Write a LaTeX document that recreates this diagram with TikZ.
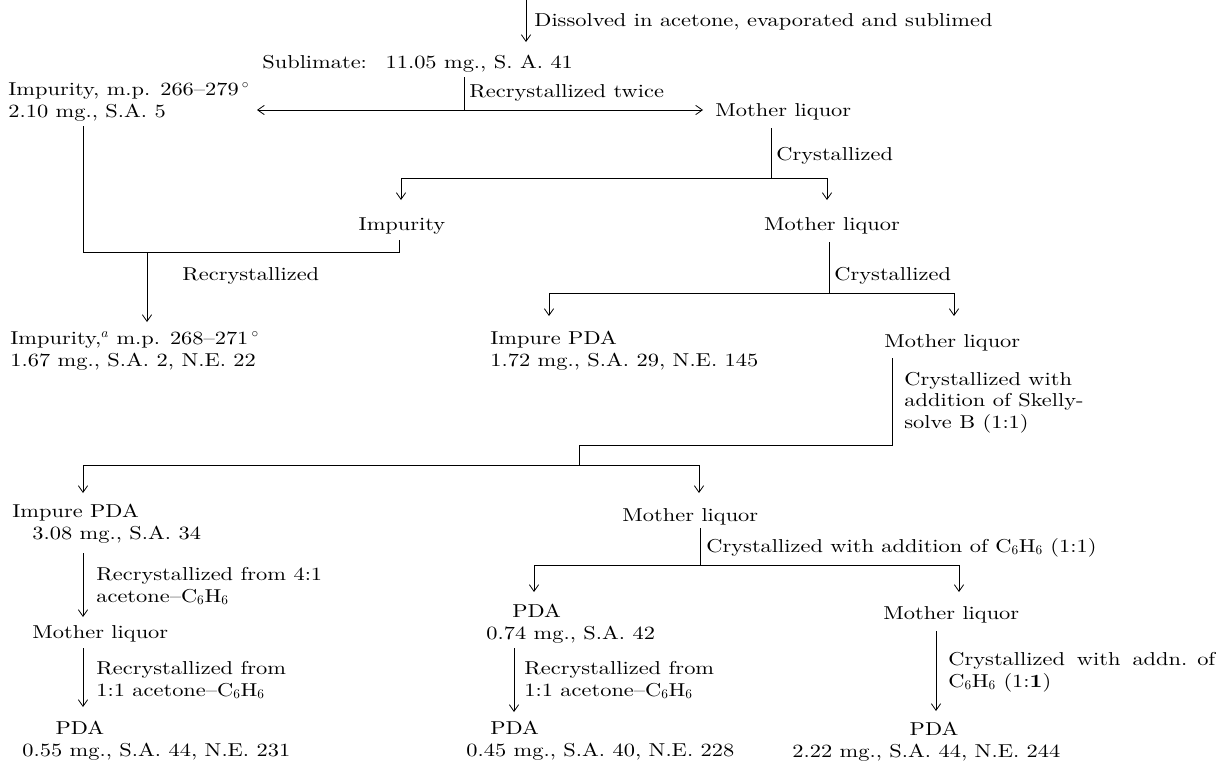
\documentclass[tikz,border=0pt]{standalone}
\usepackage{fontspec}
\setmainfont{lmroman10-regular.otf}[FakeStretch=1.2,BoldFont=lmroman10-bold.otf,ItalicFont=lmroman10-italic.otf]
\usetikzlibrary{arrows.meta}
\begin{document}
\begin{tikzpicture}[x=0.75pt,y=-0.75pt,line width=0.6pt,
  txt/.style={inner sep=0pt,anchor=base west,align=left,font=\fontsize{14}{16}\selectfont},
  ctxt/.style={txt,anchor=base,align=center},
  arr/.style={-{Straight Barb[length=5pt,width=7pt]}},
  darr/.style={{Straight Barb[length=5pt,width=7pt]}-{Straight Barb[length=5pt,width=7pt]}}]
\useasboundingbox (0,0) rectangle (1216,764);
% ---------- text nodes (positions are last-line baselines)
\node[txt] (lab0) at (534,26) {Dissolved in acetone, evaporated and sublimed};
\node[txt] (sub) at (262,68) {Sublimate:\quad 11.05 mg., S. A. 41};
\node[txt] (lab1) at (469,97) {Recrystallized twice};
\node[txt] (imp1) at (8,117) {Impurity, m.p. 266--279\,$^\circ$\\2.10 mg., S.A. 5};
\node[txt] (ml1) at (715,116) {Mother liquor};
\node[txt] (lab2) at (776,160) {Crystallized};
\node[ctxt] (imp2) at (402,230) {Impurity};
\node[ctxt] (ml2) at (832,230) {Mother liquor};
\node[txt] (lab3) at (182,280) {Recrystallized};
\node[txt] (imp3) at (10,366) {Impurity,$^a$ m.p. 268--271\,$^\circ$\\1.67 mg., S.A. 2, N.E. 22};
\node[txt] (lab4) at (834,280) {Crystallized};
\node[txt] (ipda1) at (490,366) {Impure PDA\\1.72 mg., S.A. 29, N.E. 145};
\node[txt] (ml3) at (884,347) {Mother liquor};
\node[txt] (lab5) at (904,428) {Crystallized with\\addition of Skelly-\\solve B (1:1)};
\node[txt] (ipda2) at (12,539) {Impure PDA\\\hspace*{15pt}3.08 mg., S.A. 34};
\node[txt] (ml4) at (622,521) {Mother liquor};
\node[txt] (lab6) at (706,552) {Crystallized with addition of C$_6$H$_6$ (1:1)};
\node[txt] (lab7) at (96,602) {Recrystallized from 4:1\\acetone--C$_6$H$_6$};
\node[txt] (ml5l) at (32,638) {Mother liquor};
\node[txt] (lab8) at (96,696) {Recrystallized from\\1:1 acetone--C$_6$H$_6$};
\node[txt] (pdaL) at (22,756) {\hspace*{25pt}PDA\\0.55 mg., S.A. 44, N.E. 231};
\node[txt] (pda1) at (486,639) {\hspace*{19.5pt}PDA\\0.74 mg., S.A. 42};
\node[txt] (ml5) at (883,619) {Mother liquor};
\node[txt] (lab9) at (524,696) {Recrystallized from\\1:1 acetone--C$_6$H$_6$};
\node[txt] (pdaM) at (466,756) {\hspace*{18pt}PDA\\0.45 mg., S.A. 40, N.E. 228};
\node[txt] (lab10) at (948,687) {Crystallized\hspace{9pt}with\hspace{9pt}addn. of\\C$_6$H$_6$ (1:\textbf{1})};
\node[txt] (pdaR) at (792,757) {\hspace*{88pt}PDA\\2.22 mg., S.A. 44, N.E. 244};
% ---------- junctions
\coordinate (c0) at (526,0);
\coordinate (c0e) at (526,42);
\coordinate (j1t) at (464,77);
\coordinate (j1) at (464,110);
\coordinate (aL) at (257,110);
\coordinate (aR) at (703,110);
\coordinate (j2t) at (771,128);
\coordinate (j2) at (771,178);
\coordinate (t2a) at (401,200);
\coordinate (t2b) at (827,200);
\coordinate (bk1) at (83,126);
\coordinate (bk2) at (399,240);
\coordinate (bky) at (0,252);
\coordinate (r3s) at (147,252);
\coordinate (r3e) at (147,322);
\coordinate (j3t) at (829,242);
\coordinate (j3) at (829,293);
\coordinate (t3a) at (549,316);
\coordinate (t3b) at (954,316);
\coordinate (j4t) at (892,358);
\coordinate (j4m) at (892,445);
\coordinate (j4) at (579,465);
\coordinate (t4a) at (83,493);
\coordinate (t4b) at (699,493);
\coordinate (j5t) at (700,528);
\coordinate (j5) at (700,565);
\coordinate (t5a) at (534,592);
\coordinate (t5b) at (959,592);
\coordinate (l1s) at (83,553);
\coordinate (l1e) at (83,617);
\coordinate (l2s) at (83,648);
\coordinate (l2e) at (83,707);
\coordinate (m1s) at (514,648);
\coordinate (m1e) at (514,712);
\coordinate (r1s) at (936,631);
\coordinate (r1e) at (936,711);
% ---------- connectors
\draw[arr] (c0) -- (c0e);
\draw (j1t) -- (j1);
\draw[darr] (aL) -- (aR);
\draw (j2t) -- (j2);
\draw[arr] (j2) -| (t2a);
\draw[arr] (j2) -| (t2b);
\draw (bk1) -- (bk1 |- bky) -- (bk2 |- bky) -- (bk2);
\draw[arr] (r3s) -- (r3e);
\draw (j3t) -- (j3);
\draw[arr] (j3) -| (t3a);
\draw[arr] (j3) -| (t3b);
\draw (j4t) -- (j4m) -| (j4);
\draw[arr] (j4) -| (t4a);
\draw[arr] (j4) -| (t4b);
\draw (j5t) -- (j5);
\draw[arr] (j5) -| (t5a);
\draw[arr] (j5) -| (t5b);
\draw[arr] (l1s) -- (l1e);
\draw[arr] (l2s) -- (l2e);
\draw[arr] (m1s) -- (m1e);
\draw[arr] (r1s) -- (r1e);
\end{tikzpicture}
\end{document}
